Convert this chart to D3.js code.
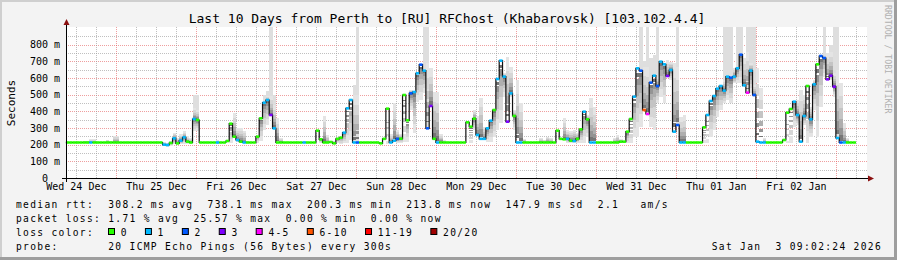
<!DOCTYPE html>
<html>
<head>
<meta charset="utf-8">
<script src="https://cdn.jsdelivr.net/npm/d3@7"></script>
<style>
  html, body { margin: 0; padding: 0; background: #f3f3f3; }
  svg { display: block; }
  text { font-family: "DejaVu Sans Mono", monospace; white-space: pre; }
</style>
</head>
<body>
<svg id="chart" width="897" height="260"></svg>
<script>
// times are Perth local time, kept in UTC fields so the browser zone does not matter
const startTime = Date.UTC(2025, 11, 24, 9, 2, 24);
const endTime = Date.UTC(2026, 0, 3, 9, 2, 24);
const firstBin = Date.UTC(2025, 11, 24, 9, 0, 0);
const binMs = 3600 * 1000;

const titleText = "Last 10 Days from Perth to [RU] RFChost (Khabarovsk) [103.102.4.4]";

// hourly median rtt (ms), one line per day
const medianMs = [
  213,213,213,213,213,213,213,213,213,213,213,213,213,213,213,
  213,213,213,213,213,213,213,213,213,213,213,213,213,213,200,198,210,238,208,224,244,218,213,354,
  348,213,213,213,213,213,213,213,213,222,326,248,228,218,213,213,213,213,248,358,452,468,378,
  298,213,213,213,213,213,213,213,213,213,213,213,213,284,232,213,213,216,208,235,242,272,418,
  468,213,213,213,213,213,213,213,213,208,235,416,213,224,235,236,498,346,508,516,628,680,644,298,
  432,235,213,213,213,213,213,213,213,213,213,334,308,356,258,235,235,298,344,408,594,704,608,338,
  508,372,213,213,213,213,213,213,213,213,213,213,213,213,284,235,232,235,224,222,235,292,398,352,
  213,213,213,213,213,213,213,213,213,218,218,278,354,488,658,644,408,384,572,614,552,698,682,612,
  648,278,318,213,213,213,213,213,213,213,304,378,462,492,536,552,524,608,602,608,658,740,556,512,
  644,498,218,213,213,213,213,213,213,213,228,392,414,458,378,218,372,552,352,562,682,732,720,592,
  614,548,240,213,213,213,213,213
];

// loss colour index per hour (0 = no loss ... 7 = 20/20)
const lossIdx = [
  0,0,0,0,0,0,0,1,0,0,0,0,0,0,0,
  0,0,0,0,0,0,0,0,0,0,0,0,0,0,1,1,0,1,0,1,1,0,0,1,
  0,0,0,0,0,0,1,0,0,0,0,0,1,0,1,0,0,0,0,0,1,1,3,1,
  0,0,0,0,0,0,0,0,1,0,0,0,0,0,0,0,0,0,0,0,1,1,1,1,
  2,0,0,0,0,0,0,0,0,0,1,1,2,0,0,0,2,1,1,2,1,2,3,0,
  1,0,0,0,0,0,0,0,0,0,0,0,1,1,1,1,1,0,1,1,1,3,1,0,
  1,1,0,0,0,0,0,0,0,0,0,0,0,0,0,1,0,1,0,0,1,0,1,1,
  0,0,0,0,0,0,0,0,0,0,0,1,1,2,5,4,2,1,2,1,1,3,1,1,
  2,1,1,0,0,0,0,0,0,1,1,1,1,1,1,1,2,1,1,2,1,4,1,2,
  1,1,1,0,0,0,0,0,0,0,0,1,1,1,1,0,1,1,0,2,2,3,3,3,
  1,2,1,0,0,0,0,0
];

// smoke: [hour index, lowest ping ms, highest ping ms]
const smoke = [
  [5,213,224],[6,213,224],[7,213,232],[8,213,232],[12,213,230],[13,213,222],[14,213,254],[15,213,254],
  [29,190,215],[30,188,212],[31,195,225],[32,205,272],[33,200,240],[34,205,262],[35,205,280],[36,205,250],
  [37,205,240],[38,280,420],[39,285,410],[45,205,228],
  [49,210,240],[50,240,390],[51,215,300],[52,213,300],[53,210,285],[54,213,222],[57,213,235],[58,225,290],
  [59,290,408],[60,320,490],[61,380,490],[62,290,440],[63,270,358],[64,213,238],
  [71,208,222],[76,213,238],[77,220,370],[78,208,258],[80,213,225],[81,208,235],[82,203,228],[83,208,248],
  [84,213,262],[85,228,298],[86,358,498],
  [87,408,498],[96,205,222],[97,220,262],[98,300,452],[99,208,288],[100,213,262],[101,215,262],[102,215,262],
  [103,408,528],[104,270,500],[105,458,568],[106,468,568],[107,508,648],[108,598,688],[109,488,658],
  [110,235,518],[111,288,518],[112,218,262],
  [113,213,228],[121,213,230],[122,288,408],[123,288,372],[124,308,478],[125,228,308],[126,218,308],
  [127,218,300],[128,248,388],[129,288,428],[130,328,508],[131,488,628],[132,598,728],[133,488,668],
  [134,288,408],[135,428,588],[136,288,448],[137,213,235],
  [142,213,238],[143,213,230],[144,213,248],[145,213,240],[149,228,358],[150,213,288],[151,213,280],
  [152,213,290],[153,210,270],[154,210,260],[155,213,288],[156,248,378],[157,308,478],[158,288,428],
  [164,213,240],[165,213,258],[166,213,232],[168,210,235],[169,210,240],[170,248,348],[171,248,408],
  [172,308,548],[173,508,668],[174,488,668],[175,308,448],[176,288,428],[177,448,608],[178,488,628],
  [179,448,588],[180,618,708],[181,588,698],[182,508,688],
  [183,488,668],[184,248,368],[185,248,378],[191,213,230],[192,213,235],[193,248,348],[194,288,428],
  [195,368,488],[196,408,538],[197,448,588],[198,468,608],[199,448,588],[200,568,658],[201,568,658],
  [202,568,658],[203,608,718],[204,688,758],[205,508,688],[206,488,558],
  [207,568,658],[208,468,538],[209,213,240],[216,213,225],[217,213,250],[218,308,408],[219,318,468],
  [220,358,528],[221,318,498],[222,208,288],[223,248,428],[224,408,588],[225,248,428],[226,428,588],
  [227,608,718],[228,688,748],[229,588,758],[230,488,628],
  [231,428,648],[232,308,568],[233,218,328],[234,213,240]
];

// single outlier pings reaching far above the smoke: [hour index, ms]
const spikes = [
  [38,498],[39,498],[59,500],[60,520],[61,905],[62,500],
  [86,560],[87,905],[107,905],[108,905],
  [172,905],[173,700],[174,905],[175,720],[176,740],[177,905],[183,905],
  [197,905],[198,905],[199,905],[201,905],[202,905],[204,905],[205,905],[206,905],
  [227,905],[229,800],[230,905],[231,905]
];

const yTicks = [0, 100, 200, 300, 400, 500, 600, 700, 800];

const lossLabels = ["0", "1", "2", "3", "4-5", "6-10", "11-19", "20/20"];
const lossColors = ["#26ff00", "#00b8ff", "#0059ff", "#7e00ff", "#ff00ff", "#ff5500", "#ff0000", "#a10000"];

const rttLine = "median rtt:  308.2 ms avg  738.1 ms max  200.3 ms min  213.8 ms now  147.9 ms sd  2.1   am/s";
const lossLine = "packet loss: 1.71 % avg  25.57 % max  0.00 % min  0.00 % now";
const probeLine = "probe:       20 ICMP Echo Pings (56 Bytes) every 300s";
const stampText = "Sat Jan  3 09:02:24 2026";

const W = 897, H = 260;
const plot = { left: 66, right: 866, top: 27, bottom: 178 };

const svg = d3.select("#chart");

const x = d3.scaleUtc()
  .domain([new Date(startTime), new Date(endTime)])
  .range([plot.left, plot.right]);
const y = d3.scaleLinear()
  .domain([0, 900])
  .range([plot.bottom, plot.bottom - 150]);

const binStart = i => new Date(firstBin + i * binMs);
const binEnd = i => new Date(firstBin + (i + 1) * binMs);

// frame
svg.append("rect").attr("width", W).attr("height", H).attr("fill", "#f3f3f3");
svg.append("rect").attr("x", 0).attr("y", 0).attr("width", W).attr("height", 2).attr("fill", "#cfcfcf");
svg.append("rect").attr("x", 0).attr("y", 0).attr("width", 2).attr("height", H).attr("fill", "#cfcfcf");
svg.append("rect").attr("x", 0).attr("y", H - 3).attr("width", W).attr("height", 3).attr("fill", "#9e9e9e");
svg.append("rect").attr("x", W - 3).attr("y", 0).attr("width", 3).attr("height", H).attr("fill", "#9e9e9e");

// canvas
svg.append("rect")
  .attr("x", plot.left).attr("y", plot.top)
  .attr("width", plot.right - plot.left + 1).attr("height", plot.bottom - plot.top)
  .attr("fill", "#ffffff");

// grid
const grid = svg.append("g").attr("shape-rendering", "crispEdges");
const minorCol = "rgba(150,150,150,0.6)";
const majorCol = "rgba(225,80,80,0.55)";

const hLines = d3.range(50, 900, 50);
grid.selectAll(".hg").data(hLines).join("line")
  .attr("x1", plot.left).attr("x2", plot.right + 1)
  .attr("y1", d => Math.round(y(d)) + 0.5).attr("y2", d => Math.round(y(d)) + 0.5)
  .attr("stroke", d => d % 100 === 0 ? majorCol : minorCol)
  .attr("stroke-dasharray", "1,1");

const sixHours = d3.utcHour.every(6).range(new Date(startTime), new Date(endTime));
grid.selectAll(".vg").data(sixHours).join("line")
  .attr("x1", d => Math.round(x(d)) + 0.5).attr("x2", d => Math.round(x(d)) + 0.5)
  .attr("y1", plot.top).attr("y2", plot.bottom)
  .attr("stroke", d => d.getUTCHours() === 0 ? majorCol : minorCol)
  .attr("stroke-dasharray", "1,1");

// smoke
const gSmoke = svg.append("g").attr("shape-rendering", "crispEdges");
const bw = x(binEnd(0)) - x(binStart(0));

gSmoke.selectAll(".spike").data(spikes).join("rect")
  .attr("x", d => x(binStart(d[0])))
  .attr("width", bw)
  .attr("y", d => Math.max(plot.top, y(d[1])))
  .attr("height", d => y(medianMs[d[0]]) - Math.max(plot.top, y(d[1])))
  .attr("fill", "#dedede");

const layers = [
  { f: 1.0, c: "#e4e4e4" },
  { f: 0.78, c: "#d6d6d6" },
  { f: 0.58, c: "#c4c4c4" },
  { f: 0.4, c: "#aeaeae" },
  { f: 0.25, c: "#949494" },
  { f: 0.12, c: "#767676" }
];
layers.forEach(L => {
  gSmoke.append("g").selectAll("rect").data(smoke).join("rect")
    .attr("x", d => x(binStart(d[0])))
    .attr("width", bw)
    .attr("y", d => {
      const m = medianMs[d[0]];
      return y(m + (d[2] - m) * L.f);
    })
    .attr("height", d => {
      const m = medianMs[d[0]];
      return y(m - (m - d[1]) * L.f) - y(m + (d[2] - m) * L.f);
    })
    .attr("fill", L.c);
});

// median line (black steps) and loss coloured dashes
const pts = medianMs.map((v, i) => [x(binStart(i)), y(v)]);
pts.push([x(binEnd(medianMs.length - 1)), y(medianMs[medianMs.length - 1])]);
svg.append("path")
  .attr("d", d3.line().curve(d3.curveStepAfter)(pts))
  .attr("fill", "none")
  .attr("stroke", "#111")
  .attr("stroke-width", 1.2);

svg.append("g").selectAll("line").data(medianMs).join("line")
  .attr("x1", (d, i) => x(binStart(i)))
  .attr("x2", (d, i) => x(binEnd(i)))
  .attr("y1", d => y(d)).attr("y2", d => y(d))
  .attr("stroke", (d, i) => lossColors[lossIdx[i]])
  .attr("stroke-width", 2.6);

// axes
const axisCol = "#000";
svg.append("line")
  .attr("x1", 62).attr("x2", 869).attr("y1", plot.bottom + 0.5).attr("y2", plot.bottom + 0.5)
  .attr("stroke", axisCol).attr("shape-rendering", "crispEdges");
svg.append("line")
  .attr("x1", plot.left + 0.5).attr("x2", plot.left + 0.5).attr("y1", 182).attr("y2", 24)
  .attr("stroke", axisCol).attr("shape-rendering", "crispEdges");
svg.append("path").attr("d", "M868,175.5L874,178.5L868,181.5Z").attr("fill", "#8b1010");
svg.append("path").attr("d", "M63.5,25L66.5,19L69.5,25Z").attr("fill", "#8b1010");

const yAxis = d3.axisLeft(y)
  .tickValues(yTicks)
  .tickSize(0)
  .tickPadding(0)
  .tickFormat(d => d === 0 ? "0" : d + " m");
const gy = svg.append("g").attr("transform", "translate(60,0)").call(yAxis);
gy.select(".domain").remove();
gy.selectAll("text")
  .style("font-family", "DejaVu Sans Mono")
  .style("font-size", "10px")
  .attr("fill", "#000");
gy.selectAll(".tick").filter(d => d === 0).select("text").attr("x", -12);

const noons = d3.utcDay.range(new Date(startTime - 86400000), new Date(endTime))
  .map(d => d3.utcHour.offset(d, 12))
  .filter(d => d >= new Date(startTime) && d <= new Date(endTime));
const xAxis = d3.axisBottom(x)
  .tickValues(noons)
  .tickSize(0)
  .tickPadding(5)
  .tickFormat(d3.utcFormat("%a %d %b"));
const gx = svg.append("g").attr("transform", `translate(0,${plot.bottom})`).call(xAxis);
gx.select(".domain").remove();
gx.selectAll("text")
  .style("font-family", "DejaVu Sans Mono")
  .style("font-size", "10px")
  .attr("fill", "#000");

// title and side texts
svg.append("text")
  .attr("x", 447).attr("y", 22.5)
  .attr("text-anchor", "middle")
  .style("font-size", "13px")
  .text(titleText);

svg.append("text")
  .attr("transform", "translate(15,103) rotate(-90)")
  .attr("text-anchor", "middle")
  .style("font-size", "11px")
  .text("Seconds");

svg.append("text")
  .attr("transform", "translate(885,5) rotate(90)")
  .style("font-size", "8.2px")
  .attr("fill", "#b0b0b0")
  .text("RRDTOOL / TOBI OETIKER");

// legend
const legendFont = "9.6px";
const legendSpacing = "1.32px";
const legendText = (s, xx, yy) => svg.append("text")
  .attr("x", xx).attr("y", yy)
  .style("font-size", legendFont).style("letter-spacing", legendSpacing)
  .text(s);

legendText(rttLine, 16, 207.5);
legendText(lossLine, 16, 221.5);
legendText("loss color:", 16, 235.5);
let lx = 108.5;
lossLabels.forEach((lab, i) => {
  svg.append("rect")
    .attr("x", lx).attr("y", 228.5).attr("width", 6).attr("height", 6)
    .attr("fill", lossColors[i]).attr("stroke", "#000").attr("stroke-width", 1);
  legendText(lab, lx + 12.2, 235.5);
  lx += (lab.length + 4.2) * 7.1;
});
legendText(probeLine, 16, 249.5);
legendText(stampText, 882, 249.5).attr("text-anchor", "end");
</script>
</body>
</html>
